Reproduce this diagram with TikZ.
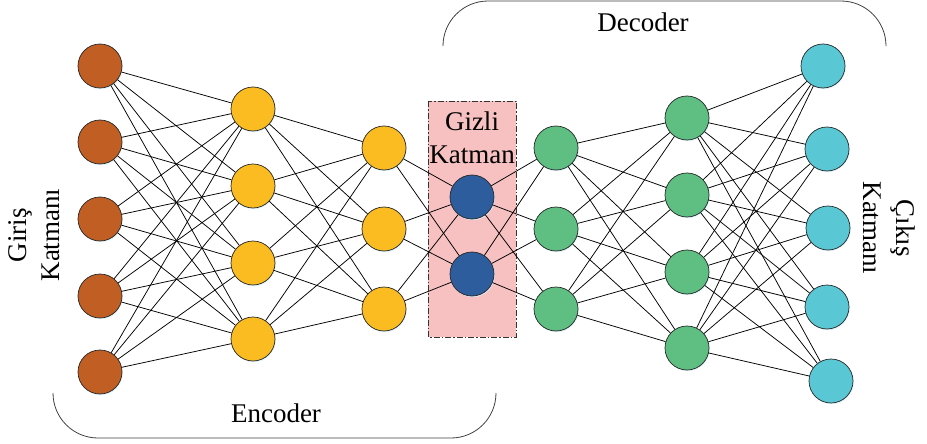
\documentclass[tikz,border=0pt]{standalone}
\usepackage{fontspec}
\setmainfont{Liberation Serif}
\usepackage{tikz}
\usetikzlibrary{shadows,positioning}

\definecolor{cIn}{RGB}{192,94,36}
\definecolor{cEnc}{RGB}{251,188,33}
\definecolor{cHid}{RGB}{46,93,158}
\definecolor{cDec}{RGB}{95,190,130}
\definecolor{cOut}{RGB}{90,200,212}
\definecolor{hidbg}{RGB}{247,192,193}

\begin{document}
\begin{tikzpicture}[x=1pt,y=-1pt,
  neuron/.style={circle,draw=black!85,line width=0.7pt,minimum size=44pt,inner sep=0pt,
    drop shadow={shadow xshift=0.8pt,shadow yshift=-1.2pt,fill=cyan!15,opacity=0.8}},
  link/.style={black,line width=0.75pt},
  brace/.style={black!75,line width=0.8pt,rounded corners=45pt},
  lbl/.style={font=\fontsize{27}{33}\selectfont,align=center,inner sep=0pt}]
\useasboundingbox (0,0) rectangle (927,444);

% gizli katman kutusu
\fill[hidbg] (428,101) rectangle (516,337);
\draw[gray!40!black,line width=0.7pt,dash pattern=on 6pt off 2pt on 1.5pt off 2pt] (428,101) rectangle (516,337);

% katmanlar
\foreach \y [count=\i] in {66,142,219,296,372}
  \node[neuron,fill=cIn] (in-\i) at (100,\y) {};
\foreach \y [count=\i] in {109,186,263,339}
  \node[neuron,fill=cEnc] (enA-\i) at (253,\y) {};
\foreach \y [count=\i] in {148,229,309}
  \node[neuron,fill=cEnc] (enB-\i) at (384,\y) {};
\foreach \y [count=\i] in {197,274}
  \node[neuron,fill=cHid] (hid-\i) at (472,\y) {};
\foreach \y [count=\i] in {148,229,309}
  \node[neuron,fill=cDec] (deA-\i) at (556,\y) {};
\foreach \y [count=\i] in {118,195,272,348}
  \node[neuron,fill=cDec] (deB-\i) at (687,\y) {};
\foreach \x/\y [count=\i] in {823/66,827/149,828/228,827/307,831/381}
  \node[neuron,fill=cOut] (out-\i) at (\x,\y) {};

% baglantilar
\foreach \a in {1,...,5}
  \foreach \b in {1,...,4}
    \draw[link] (in-\a) -- (enA-\b);
\foreach \a in {1,...,4}
  \foreach \b in {1,...,3}
    \draw[link] (enA-\a) -- (enB-\b);
\foreach \a in {1,...,3}
  \foreach \b in {1,2}
    \draw[link] (enB-\a) -- (hid-\b);
\foreach \a in {1,2}
  \foreach \b in {1,...,3}
    \draw[link] (hid-\a) -- (deA-\b);
\foreach \a in {1,...,3}
  \foreach \b in {1,...,4}
    \draw[link] (deA-\a) -- (deB-\b);
\foreach \a in {1,...,4}
  \foreach \b in {1,...,5}
    \draw[link] (deB-\a) -- (out-\b);

% yazilar
\node[lbl] (hidlbl) at (472,138) {Gizli\\Katman};
\node[lbl,rotate=90] (inlbl) at (34,235) {Giriş\\Katmanı};
\node[lbl,rotate=-90] (outlbl) at (889,228) {Çıkış\\Katmanı};
\node[lbl] (enclbl) at (276,413) {Encoder};
\node[lbl] (declbl) at (643,22) {Decoder};

% encoder / decoder
\draw[brace] (53,393) |- (496,438) -- (496,393);
\draw[brace] (443,43) |- (886,1) -- (886,43);
\end{tikzpicture}
\end{document}
